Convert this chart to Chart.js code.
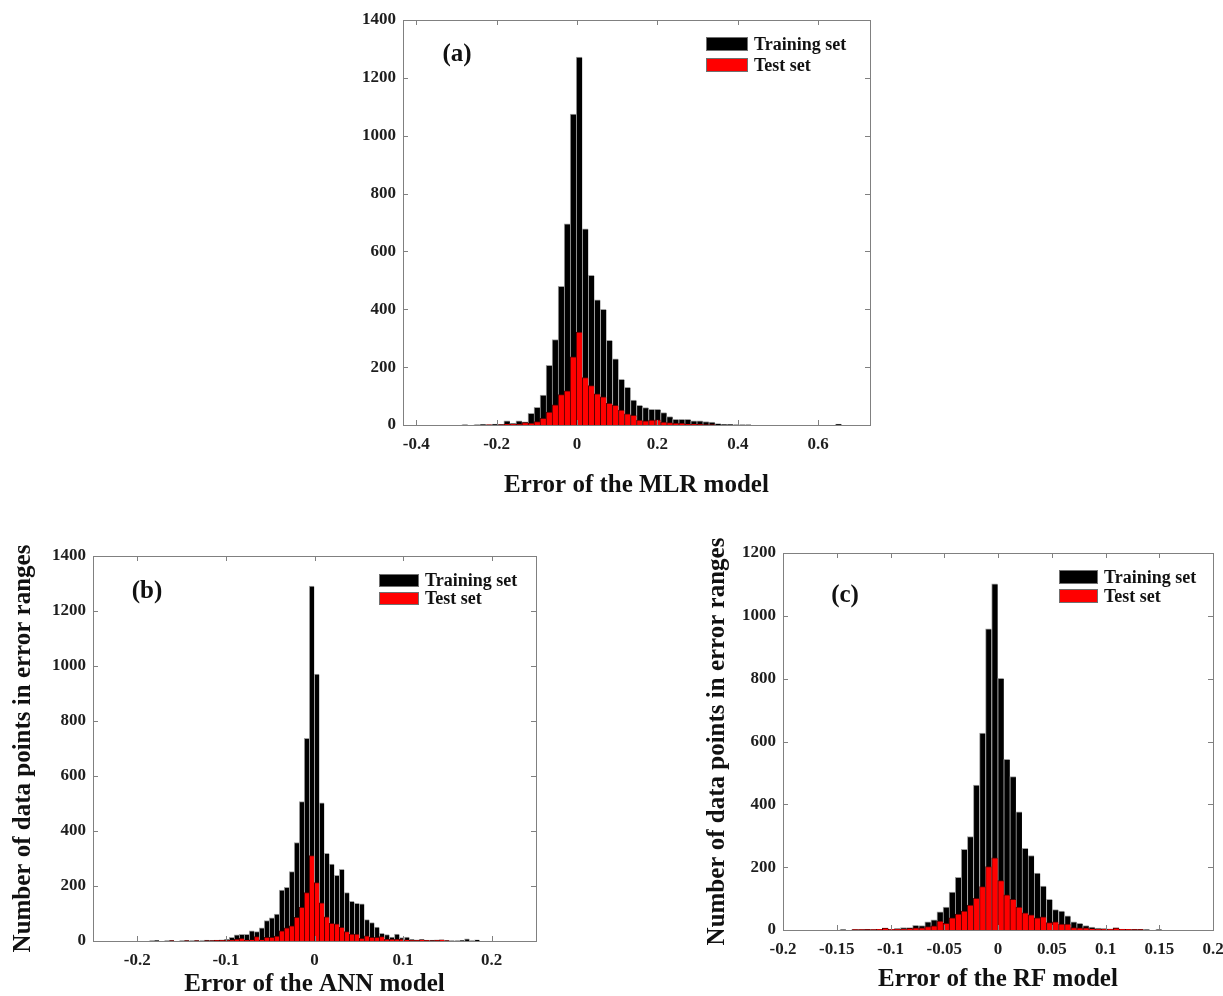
<!DOCTYPE html>
<html>
<head>
<meta charset="utf-8">
<script src="https://cdn.jsdelivr.net/npm/chart.js@4.4.0/dist/chart.umd.min.js"></script>
<style>
  html, body { margin: 0; padding: 0; background: #fff; overflow: hidden; width: 1223px; height: 996px; }
  canvas { position: absolute; }
</style>
</head>
<body>
<canvas id="chartMLR" width="560" height="510" style="left:330px;top:0px"></canvas>
<canvas id="chartANN" width="560" height="490" style="left:0px;top:520px"></canvas>
<canvas id="chartRF" width="545" height="490" style="left:690px;top:520px"></canvas>
<script>
// --- data (bin centres + counts) ---

// (a) MLR, bins ~0.015 wide
const binsMLR = [-0.2945, -0.2795, -0.2645, -0.2495, -0.2345, -0.2195, -0.2045, -0.1895, -0.1745, -0.1595,
  -0.1445, -0.1295, -0.1145, -0.0995, -0.0845, -0.0695, -0.0545, -0.0395, -0.0245, -0.0095,
  0.0055, 0.0205, 0.0355, 0.0505, 0.0655, 0.0805, 0.0955, 0.1105, 0.1255, 0.1405,
  0.1555, 0.1705, 0.1855, 0.2005, 0.2155, 0.2305, 0.2455, 0.2605, 0.2755, 0.2905,
  0.3055, 0.3205, 0.3355, 0.3505, 0.3655, 0.3805, 0.3955, 0.4105, 0.4255, 0.6505];
const trainMLR = [0, 1, 0, 1, 2, 1, 3, 2, 14, 6,
  14, 11, 40, 61, 103, 206, 295, 479, 695, 1075,
  1272, 678, 517, 433, 400, 293, 229, 158, 130, 86,
  68, 60, 54, 54, 43, 29, 20, 20, 20, 14,
  14, 12, 10, 5, 2, 2, 1, 1, 1, 3];
const testMLR = [0, 0, 0, 0, 0, 1, 0, 1, 3, 3,
  2, 8, 6, 12, 23, 45, 70, 105, 118, 236,
  321, 164, 136, 108, 97, 75, 68, 52, 39, 33,
  17, 14, 17, 18, 10, 8, 6, 6, 3, 3,
  2, 1, 1, 0, 0, 0, 0, 0, 0, 0];

// (b) ANN, bins ~0.00565 wide
const binsANN = [-0.1839, -0.1782, -0.1726, -0.1669, -0.1613, -0.1556, -0.1500, -0.1443, -0.1387, -0.1331,
  -0.1274, -0.1218, -0.1161, -0.1105, -0.1048, -0.0992, -0.0935, -0.0879, -0.0822, -0.0766,
  -0.0709, -0.0653, -0.0596, -0.0540, -0.0483, -0.0427, -0.0370, -0.0314, -0.0257, -0.0201,
  -0.0144, -0.0088, -0.0031, 0.0026, 0.0082, 0.0139, 0.0195, 0.0252, 0.0308, 0.0365,
  0.0421, 0.0478, 0.0534, 0.0591, 0.0647, 0.0704, 0.0760, 0.0817, 0.0873, 0.0930,
  0.0986, 0.1043, 0.1099, 0.1156, 0.1212, 0.1269, 0.1325, 0.1382, 0.1438, 0.1495,
  0.1551, 0.1608, 0.1664, 0.1721, 0.1777, 0.1834, 0.1890];
const trainANN = [1, 2, 0, 1, 2, 0, 1, 2, 1, 2,
  1, 3, 2, 3, 4, 6, 13, 22, 24, 24,
  37, 34, 48, 74, 84, 98, 185, 195, 252, 358,
  507, 737, 1291, 971, 502, 319, 280, 239, 261, 176,
  144, 137, 135, 78, 67, 51, 28, 23, 14, 25,
  12, 14, 6, 4, 6, 3, 3, 4, 4, 2,
  1, 1, 2, 8, 1, 4, 0];
const testANN = [0, 0, 0, 0, 1, 0, 0, 1, 0, 1,
  0, 1, 1, 2, 2, 2, 3, 6, 10, 3,
  4, 16, 4, 13, 13, 18, 37, 48, 55, 86,
  122, 176, 311, 212, 139, 88, 64, 62, 50, 34,
  25, 25, 10, 19, 13, 13, 16, 6, 6, 6,
  6, 4, 2, 2, 4, 2, 1, 2, 4, 1,
  0, 0, 0, 0, 0, 0, 0];

// (c) RF, same bin width as (b)
const binsRF = binsANN.slice(7, 60);
const trainRF = [1, 0, 1, 1, 2, 1, 2, 6, 2, 5,
  8, 8, 15, 14, 26, 32, 58, 73, 121, 168,
  257, 297, 461, 627, 959, 1102, 801, 543, 488, 376,
  260, 237, 181, 140, 98, 65, 60, 45, 26, 21,
  14, 9, 6, 5, 4, 8, 3, 2, 2, 2,
  1, 0, 1];
const testRF = [0, 0, 1, 1, 1, 1, 2, 6, 2, 3,
  3, 5, 7, 7, 11, 13, 28, 21, 39, 51,
  60, 79, 101, 138, 202, 230, 157, 112, 98, 73,
  55, 48, 39, 42, 24, 26, 19, 19, 8, 7,
  7, 4, 3, 2, 2, 6, 2, 2, 1, 1,
  0, 0, 0];

// tick labels
const xTicksMLR = [-0.4, -0.2, 0, 0.2, 0.4, 0.6];
const xTicksANN = [-0.2, -0.1, 0, 0.1, 0.2];
const xTicksRF = [-0.2, -0.15, -0.1, -0.05, 0, 0.05, 0.1, 0.15, 0.2];
const yTicks1400 = [0, 200, 400, 600, 800, 1000, 1200, 1400];
const yTicks1200 = [0, 200, 400, 600, 800, 1000, 1200];

const seriesNames = ['Training set', 'Test set'];
const yTitle = 'Number of data points in error ranges';

Chart.defaults.font.family = '"Liberation Serif", "Times New Roman", serif';
Chart.defaults.color = '#1e1e1e';

// matlab style box, inward ticks, legend and panel letter
const matlabFrame = {
  id: 'matlabFrame',
  afterDraw(chart, args, o) {
    const { ctx, chartArea: a, scales: { x, y } } = chart;
    ctx.save();
    ctx.strokeStyle = '#808080';
    ctx.lineWidth = 1;
    ctx.beginPath();
    x.ticks.forEach(t => {
      const px = Math.round(x.getPixelForValue(t.value)) + 0.5;
      ctx.moveTo(px, a.bottom); ctx.lineTo(px, a.bottom - 5);
      ctx.moveTo(px, a.top); ctx.lineTo(px, a.top + 5);
    });
    y.ticks.forEach(t => {
      const py = Math.round(y.getPixelForValue(t.value)) + 0.5;
      ctx.moveTo(a.left, py); ctx.lineTo(a.left + 5, py);
      ctx.moveTo(a.right, py); ctx.lineTo(a.right - 5, py);
    });
    ctx.stroke();
    ctx.strokeRect(Math.round(a.left) + 0.5, Math.round(a.top) + 0.5,
      Math.round(a.right - a.left), Math.round(a.bottom - a.top));

    // panel letter
    ctx.fillStyle = '#111';
    ctx.font = 'bold 25px "Liberation Serif"';
    ctx.textAlign = 'center';
    ctx.textBaseline = 'middle';
    ctx.fillText(o.panel, a.left + o.panelX, a.top + o.panelY);

    // legend
    ctx.font = 'bold 18px "Liberation Serif"';
    ctx.textAlign = 'left';
    chart.data.datasets.forEach((ds, i) => {
      const bx = Math.round(a.right + o.legendX);
      const by = Math.round(a.top + o.legendY + i * o.legendGap);
      ctx.fillStyle = ds.backgroundColor;
      ctx.fillRect(bx, by, o.boxW, o.boxH);
      ctx.strokeStyle = '#707070';
      ctx.strokeRect(bx + 0.5, by + 0.5, o.boxW - 1, o.boxH - 1);
      ctx.fillStyle = '#111';
      ctx.fillText(ds.label, bx + o.boxW + 6, by + o.boxH / 2 + 1);
    });
    ctx.restore();
  }
};

function histChart(id, c) {
  const bold = (size) => ({ size: size, weight: 'bold' });
  return new Chart(document.getElementById(id), {
    type: 'bar',
    data: {
      datasets: [
        {
          label: seriesNames[0],
          data: c.bins.map((b, i) => ({ x: b, y: c.train[i] })),
          backgroundColor: '#000000',
          borderColor: '#a0a0a0',
          order: 1
        },
        {
          label: seriesNames[1],
          data: c.bins.map((b, i) => ({ x: b, y: c.test[i] })),
          backgroundColor: '#ff0000',
          borderColor: '#550000',
          order: 0
        }
      ]
    },
    options: {
      responsive: false,
      animation: false,
      events: [],
      layout: { padding: c.padding },
      datasets: {
        bar: {
          grouped: false,
          barPercentage: 1,
          categoryPercentage: 1,
          borderWidth: { left: 1, top: 1, right: 0, bottom: 0 }
        }
      },
      plugins: {
        legend: { display: false },
        tooltip: { enabled: false },
        matlabFrame: c.frame
      },
      scales: {
        x: {
          type: 'linear',
          min: c.xMin,
          max: c.xMax,
          bounds: 'data',
          offset: false,
          grid: { display: false, drawTicks: false, offset: false },
          border: { display: false },
          afterBuildTicks: s => { s.ticks = c.xTicks.map(v => ({ value: v })); },
          afterFit: s => { s.height = c.xAxisH; s.paddingLeft = 0; s.paddingRight = 0; },
          ticks: { autoSkip: false, maxRotation: 0, padding: 9, font: bold(17), callback: v => String(v) },
          title: { display: true, text: c.xTitle, font: bold(25), color: '#111', padding: { top: 0, bottom: c.xTitlePad } }
        },
        y: {
          min: 0,
          max: c.yMax,
          grid: { display: false, drawTicks: false },
          border: { display: false },
          afterBuildTicks: s => { s.ticks = c.yTicks.map(v => ({ value: v })); },
          afterFit: s => { s.width = c.yAxisW; s.paddingTop = 0; s.paddingBottom = 0; },
          ticks: { padding: 7, font: bold(17), callback: v => String(v) },
          title: c.yTitle
            ? { display: true, text: c.yTitle, font: bold(25), color: '#111', padding: { top: c.yTitlePad, bottom: 0 } }
            : { display: false }
        }
      }
    },
    plugins: [matlabFrame]
  });
}

histChart('chartMLR', {
  bins: binsMLR, train: trainMLR, test: testMLR,
  xMin: -0.433, xMax: 0.729, xTicks: xTicksMLR,
  yMax: 1400, yTicks: yTicks1400,
  xTitle: 'Error of the MLR model', xTitlePad: 9, yTitle: null,
  padding: { top: 20, right: 20, left: 0, bottom: 0 },
  yAxisW: 73, xAxisH: 85,
  frame: { panel: '(a)', panelX: 54, panelY: 35, legendX: -164, legendY: 17, legendGap: 21, boxW: 42, boxH: 14 }
});

histChart('chartANN', {
  bins: binsANN, train: trainANN, test: testANN,
  xMin: -0.25, xMax: 0.25, xTicks: xTicksANN,
  yMax: 1400, yTicks: yTicks1400,
  xTitle: 'Error of the ANN model', xTitlePad: 10, yTitle: yTitle, yTitlePad: 9,
  padding: { top: 36, right: 24, left: 0, bottom: 0 },
  yAxisW: 93, xAxisH: 69,
  frame: { panel: '(b)', panelX: 54, panelY: 36, legendX: -157, legendY: 18, legendGap: 18, boxW: 40, boxH: 13 }
});

histChart('chartRF', {
  bins: binsRF, train: trainRF, test: testRF,
  xMin: -0.2, xMax: 0.2, xTicks: xTicksRF,
  yMax: 1200, yTicks: yTicks1200,
  xTitle: 'Error of the RF model', xTitlePad: 15, yTitle: yTitle, yTitlePad: 13,
  padding: { top: 33, right: 22, left: 0, bottom: 0 },
  yAxisW: 93, xAxisH: 80,
  frame: { panel: '(c)', panelX: 62, panelY: 43, legendX: -154, legendY: 17, legendGap: 19, boxW: 39, boxH: 14 }
});
</script>
</body>
</html>
